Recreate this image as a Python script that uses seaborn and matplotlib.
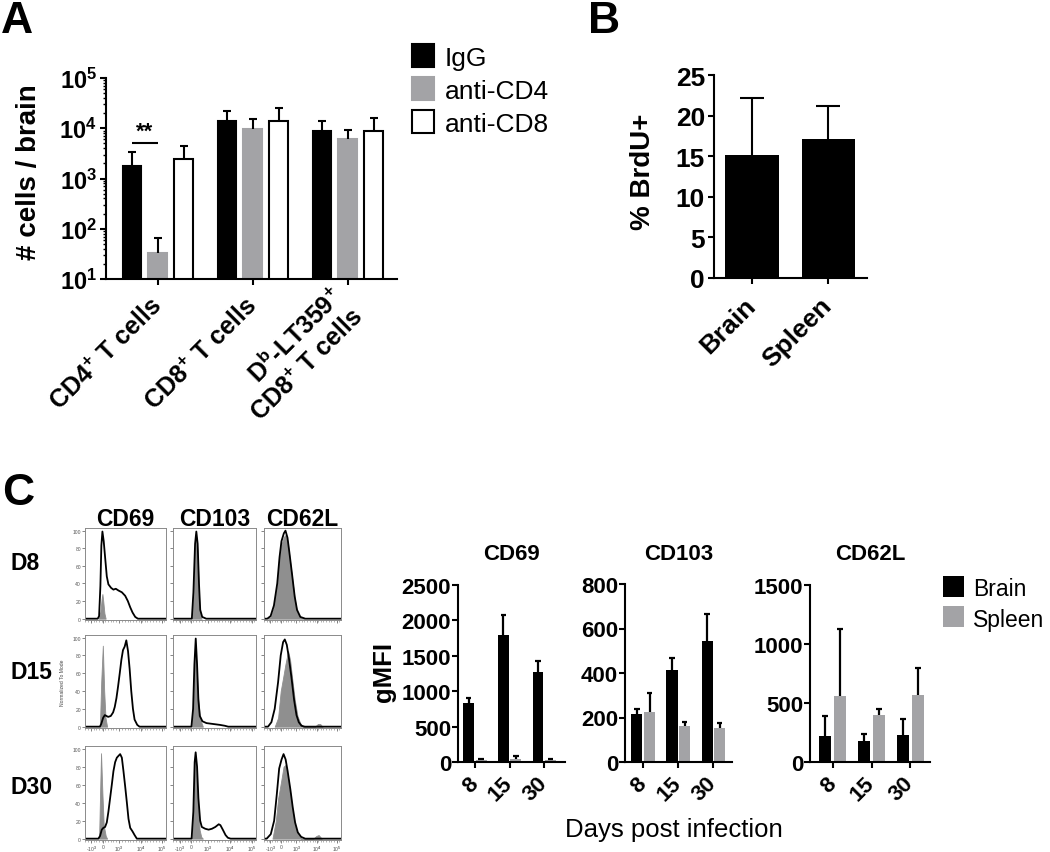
import numpy as np
import pandas as pd
import matplotlib
matplotlib.use("Agg")
import matplotlib.pyplot as plt
import seaborn as sns
from matplotlib.patches import Rectangle
from matplotlib.ticker import FixedLocator, LogLocator, NullFormatter

sns.set_style("ticks")
plt.rcParams["font.family"] = ["Liberation Sans", "DejaVu Sans"]
plt.rcParams["mathtext.fontset"] = "custom"
plt.rcParams["mathtext.rm"] = "Liberation Sans:bold"
plt.rcParams["mathtext.bf"] = "Liberation Sans:bold"
plt.rcParams["mathtext.it"] = "Liberation Sans:bold"
plt.rcParams["mathtext.default"] = "rm"
plt.rcParams["text.color"] = "black"
plt.rcParams["axes.labelcolor"] = "black"
plt.rcParams["xtick.color"] = "black"
plt.rcParams["ytick.color"] = "black"

# ---------------- data: panel A ----------------
A_CATS = ["CD4", "CD8", "Db"]
A_TICKLABELS = [r"CD4$^{+}$ T cells", r"CD8$^{+}$ T cells",
                "D$^{b}$-LT359$^{+}$\nCD8$^{+}$ T cells"]
A_GROUPS = ["IgG", "anti-CD4", "anti-CD8"]
A_IGG = [1780, 13900, 8800]
A_IGG_ERR = [1600, 8400, 5200]
A_ACD4 = [33, 9700, 6100]
A_ACD4_ERR = [33, 5600, 3200]
A_ACD8 = [2450, 13900, 8800]
A_ACD8_ERR = [2000, 11500, 7000]
A_YTICKS = [1e1, 1e2, 1e3, 1e4, 1e5]
A_YTICKLABELS = [r"$10^{1}$", r"$10^{2}$", r"$10^{3}$", r"$10^{4}$", r"$10^{5}$"]
A_SIG_Y = 5200

# ---------------- data: panel B ----------------
B_CATS = ["Brain", "Spleen"]
B_VALS = [15.2, 17.1]
B_ERR = [7.0, 4.1]
B_YTICKS = [0, 5, 10, 15, 20, 25]

# ---------------- data: panel C bars ----------------
C_DAYS = ["8", "15", "30"]
C_TISSUES = ["Brain", "Spleen"]
CD69_BRAIN = [830, 1790, 1265]
CD69_BRAIN_ERR = [70, 285, 155]
CD69_SPLEEN = [25, 45, 25]
CD69_SPLEEN_ERR = [12, 45, 12]
CD103_BRAIN = [217, 414, 546]
CD103_BRAIN_ERR = [22, 55, 119]
CD103_SPLEEN = [226, 164, 154]
CD103_SPLEEN_ERR = [85, 17, 22]
CD62L_BRAIN = [217, 178, 225]
CD62L_BRAIN_ERR = [169, 59, 139]
CD62L_SPLEEN = [561, 395, 570]
CD62L_SPLEEN_ERR = [567, 50, 228]
CD69_YTICKS = [0, 500, 1000, 1500, 2000, 2500]
CD103_YTICKS = [0, 200, 400, 600, 800]
CD62L_YTICKS = [0, 500, 1000, 1500]

# ---------------- data: panel C histograms (x: biexponential position 0-1, y: % of mode) ----------------
HIST_MARKERS = ["CD69", "CD103", "CD62L"]
HIST_DAYS = ["D8", "D15", "D30"]
HIST_YTICKS = [0, 20, 40, 60, 80, 100]
HIST_XTICKS = [0.08, 0.22, 0.42, 0.69, 0.95]
HIST_XTICKLABELS = [r"-10$^{3}$", "0", r"10$^{3}$", r"10$^{4}$", r"10$^{5}$"]

CD69_D8_LINE = [(0, 0), (0.157, 0), (0.174, 3), (0.19, 37), (0.202, 83), (0.215, 99), (0.231, 88),
                (0.248, 70), (0.269, 48), (0.289, 39), (0.322, 35), (0.351, 33), (0.38, 34), (0.413, 32),
                (0.455, 30), (0.496, 26), (0.529, 20), (0.558, 13), (0.587, 7), (0.62, 2), (0.653, 0), (1, 0)]
CD69_D8_FILL = [(0.17, 0), (0.19, 8), (0.205, 22), (0.215, 28), (0.225, 20), (0.24, 6), (0.255, 0)]
CD103_D8_LINE = [(0, 0), (0.227, 0), (0.246, 30), (0.266, 85), (0.281, 99), (0.297, 85), (0.313, 40),
                 (0.328, 10), (0.352, 2), (0.4, 0), (1, 0)]
CD103_D8_FILL = [(0.232, 0), (0.25, 28), (0.266, 78), (0.28, 93), (0.295, 78), (0.31, 32), (0.325, 6),
                 (0.345, 0)]
CD62L_D8_LINE = [(0, 0), (0.043, 0), (0.086, 3), (0.129, 15), (0.172, 40), (0.202, 70), (0.227, 88),
                 (0.258, 97), (0.279, 100), (0.305, 92), (0.33, 75), (0.365, 50), (0.399, 25), (0.429, 10),
                 (0.472, 2), (0.536, 0), (1, 0)]
CD62L_D8_FILL = [(0.05, 0), (0.09, 2), (0.13, 13), (0.172, 37), (0.202, 66), (0.227, 84), (0.258, 93),
                 (0.279, 95), (0.305, 88), (0.33, 71), (0.365, 46), (0.399, 22), (0.429, 8), (0.472, 1),
                 (0.52, 0)]

CD69_D15_LINE = [(0, 0), (0.184, 0), (0.2, 3), (0.224, 10), (0.245, 13), (0.265, 12), (0.286, 11),
                 (0.318, 12), (0.347, 16), (0.367, 22), (0.388, 32), (0.408, 45), (0.429, 60), (0.449, 75),
                 (0.469, 86), (0.49, 90), (0.51, 97), (0.531, 85), (0.551, 65), (0.571, 40), (0.592, 20),
                 (0.612, 8), (0.645, 2), (0.673, 0), (1, 0)]
CD69_D15_FILL = [(0.184, 0), (0.2, 50), (0.22, 91), (0.237, 40), (0.253, 10), (0.273, 0)]
CD103_D15_LINE = [(0, 0), (0.222, 0), (0.242, 20), (0.258, 70), (0.274, 99), (0.29, 70), (0.306, 30),
                  (0.323, 12), (0.355, 6), (0.403, 4), (0.484, 3), (0.565, 2), (0.625, 1), (0.665, 0), (1, 0)]
CD103_D15_FILL = [(0.23, 0), (0.25, 40), (0.265, 85), (0.28, 75), (0.3, 35), (0.32, 15), (0.34, 5),
                  (0.36, 0)]
CD62L_D15_LINE = [(0, 0), (0.052, 0), (0.096, 5), (0.139, 20), (0.183, 50), (0.217, 80), (0.248, 95),
                  (0.27, 98), (0.296, 92), (0.322, 78), (0.357, 55), (0.391, 30), (0.422, 13), (0.452, 5),
                  (0.487, 1), (0.53, 0), (1, 0)]
CD62L_D15_FILL = [(0.139, 0), (0.183, 10), (0.217, 40), (0.248, 55), (0.278, 70), (0.313, 85),
                  (0.339, 75), (0.365, 55), (0.4, 30), (0.435, 12), (0.47, 4), (0.509, 0), (0.66, 0),
                  (0.7, 3), (0.73, 3), (0.76, 0)]

CD69_D30_LINE = [(0, 0), (0.165, 0), (0.186, 3), (0.207, 10), (0.227, 12), (0.248, 13), (0.269, 18),
                 (0.289, 30), (0.31, 45), (0.331, 60), (0.351, 75), (0.372, 85), (0.393, 90), (0.413, 92),
                 (0.434, 94), (0.455, 90), (0.475, 75), (0.496, 58), (0.517, 40), (0.537, 22), (0.558, 12),
                 (0.587, 8), (0.612, 4), (0.64, 0), (1, 0)]
CD69_D30_FILL = [(0.174, 0), (0.186, 50), (0.198, 95), (0.215, 50), (0.231, 15), (0.256, 3), (0.273, 0)]
CD103_D30_LINE = [(0, 0), (0.224, 0), (0.245, 30), (0.261, 85), (0.273, 96), (0.29, 80), (0.306, 45),
                  (0.327, 20), (0.347, 13), (0.388, 11), (0.429, 10), (0.469, 11), (0.51, 13), (0.551, 16),
                  (0.571, 15), (0.6, 10), (0.633, 4), (0.661, 1), (0.694, 0), (1, 0)]
CD103_D30_FILL = [(0.23, 0), (0.25, 40), (0.265, 88), (0.285, 70), (0.3, 40), (0.32, 10), (0.34, 2),
                  (0.36, 0)]
CD62L_D30_LINE = [(0, 0), (0.035, 0), (0.088, 5), (0.132, 20), (0.167, 50), (0.197, 78), (0.228, 88),
                  (0.254, 94), (0.281, 88), (0.307, 75), (0.342, 55), (0.373, 35), (0.404, 18), (0.439, 7),
                  (0.482, 2), (0.535, 0), (1, 0)]
CD62L_D30_FILL = [(0.11, 0), (0.154, 20), (0.184, 45), (0.219, 62), (0.254, 80), (0.281, 82),
                  (0.307, 70), (0.342, 50), (0.373, 30), (0.404, 15), (0.439, 5), (0.482, 0), (0.64, 0),
                  (0.68, 3), (0.71, 4), (0.75, 0)]

HIST = {
    ("D8", "CD69"): (CD69_D8_LINE, CD69_D8_FILL),
    ("D8", "CD103"): (CD103_D8_LINE, CD103_D8_FILL),
    ("D8", "CD62L"): (CD62L_D8_LINE, CD62L_D8_FILL),
    ("D15", "CD69"): (CD69_D15_LINE, CD69_D15_FILL),
    ("D15", "CD103"): (CD103_D15_LINE, CD103_D15_FILL),
    ("D15", "CD62L"): (CD62L_D15_LINE, CD62L_D15_FILL),
    ("D30", "CD69"): (CD69_D30_LINE, CD69_D30_FILL),
    ("D30", "CD103"): (CD103_D30_LINE, CD103_D30_FILL),
    ("D30", "CD62L"): (CD62L_D30_LINE, CD62L_D30_FILL),
}

# ---------------- styling ----------------
BLACK = "#000000"
BAR_GRAY = "#a3a3a6"
HIST_GRAY = "#8f8f8f"
FRAME_GRAY = "#8a8a8a"

W, H = 1050, 853
fig = plt.figure(figsize=(W / 100, H / 100), dpi=100)
fig.patch.set_facecolor("white")


def rect(l, t, r, b):
    return [l / W, 1 - b / H, (r - l) / W, (b - t) / H]


def ftext(x, y, s, **kw):
    kw.setdefault("color", BLACK)
    return fig.text(x / W, 1 - y / H, s, **kw)


def fsquare(l, t, r, b, fc, ec=None, lw=0):
    fig.add_artist(Rectangle((l / W, 1 - b / H), (r - l) / W, (b - t) / H,
                             transform=fig.transFigure, facecolor=fc,
                             edgecolor=ec if ec else fc, linewidth=lw))


def style_bar_axes(ax, lw=1.5, ticklen=4.5):
    sns.despine(ax=ax)
    for s in ["left", "bottom"]:
        ax.spines[s].set_linewidth(lw)
        ax.spines[s].set_color(BLACK)
    ax.tick_params(axis="both", which="major", length=ticklen, width=lw,
                   color=BLACK, direction="out", labelcolor=BLACK)
    ax.set_xlabel("")
    ax.set_ylabel("")
    ax.set_facecolor("none")


def add_errs(ax, container, errs, lw=1.5, frac=0.45):
    patches = sorted(container, key=lambda p: p.get_x())
    for p, e in zip(patches, errs):
        xc = p.get_x() + p.get_width() / 2
        top = p.get_height()
        half = p.get_width() * frac / 2
        ax.vlines(xc, top, top + e, color=BLACK, lw=lw, zorder=3)
        ax.hlines(top + e, xc - half, xc + half, color=BLACK, lw=lw, zorder=3)


# ================= Panel A =================
dfA = pd.DataFrame({
    "cat": A_CATS * 3,
    "grp": np.repeat(A_GROUPS, len(A_CATS)),
    "val": A_IGG + A_ACD4 + A_ACD8,
})
axA = fig.add_axes(rect(106, 79, 397, 280))
sns.barplot(data=dfA, x="cat", y="val", hue="grp", order=A_CATS, hue_order=A_GROUPS,
            palette={"IgG": BLACK, "anti-CD4": BAR_GRAY, "anti-CD8": "white"},
            width=0.82, gap=0.27, errorbar=None, legend=False, ax=axA,
            edgecolor=BLACK, linewidth=1.5)
for p in axA.containers[1]:
    p.set_edgecolor(BAR_GRAY)
for cont, errs in zip(axA.containers, [A_IGG_ERR, A_ACD4_ERR, A_ACD8_ERR]):
    add_errs(axA, cont, errs, lw=1.5, frac=0.45)
axA.set_yscale("log")
axA.set_ylim(1e1, 1e5)
axA.set_xlim(-0.547, 2.516)
style_bar_axes(axA)
axA.yaxis.set_minor_locator(LogLocator(base=10, subs=np.arange(2, 10)))
axA.yaxis.set_minor_formatter(NullFormatter())
axA.tick_params(axis="y", which="minor", length=2.5, width=1.0, color=BLACK, direction="out")
axA.set_yticks(A_YTICKS)
axA.set_yticklabels(A_YTICKLABELS, fontsize=17, fontweight="bold")
axA.set_xticks(range(len(A_CATS)))
axA.set_xticklabels(A_TICKLABELS, rotation=45, ha="right", va="center",
                    rotation_mode="anchor", fontsize=18, fontweight="bold")
axA.tick_params(axis="x", pad=12)
axA.tick_params(axis="y", pad=2)
# significance
c0 = sorted(axA.containers[0], key=lambda p: p.get_x())[0]
c1 = sorted(axA.containers[1], key=lambda p: p.get_x())[0]
x0 = c0.get_x() + c0.get_width() / 2
x1 = c1.get_x() + c1.get_width() / 2
axA.hlines(A_SIG_Y, x0, x1, color=BLACK, lw=1.5)
axA.text((x0 + x1) / 2, A_SIG_Y * 1.05, "**", ha="center", va="bottom",
         fontsize=16, fontweight="bold", color=BLACK)
ftext(29, 172, "# cells / brain", rotation=90, ha="center", va="center",
      fontsize=20, fontweight="bold")

# legend A
for (t, b), lab, fc, ec in zip([(45, 68), (78, 101), (111, 134)], A_GROUPS,
                               [BLACK, BAR_GRAY, "white"], [BLACK, BAR_GRAY, BLACK]):
    fsquare(412, t, 434, b, fc, ec, lw=1.5)
    ftext(445, (t + b) / 2, lab, ha="left", va="center_baseline", fontsize=19)

ftext(1, 33, "A", ha="left", va="baseline", fontsize=32, fontweight="bold")

# ================= Panel B =================
dfB = pd.DataFrame({"tissue": B_CATS, "val": B_VALS})
axB = fig.add_axes(rect(714, 76, 867, 279))
sns.barplot(data=dfB, x="tissue", y="val", order=B_CATS, color=BLACK, width=0.7,
            errorbar=None, ax=axB, edgecolor=BLACK, linewidth=0)
add_errs(axB, axB.containers[0], B_ERR, lw=1.5, frac=0.45)
axB.set_ylim(0, 25)
axB.set_xlim(-0.5, 1.51)
style_bar_axes(axB)
axB.set_yticks(B_YTICKS)
axB.set_yticklabels([str(v) for v in B_YTICKS], fontsize=19, fontweight="bold")
axB.set_xticks(range(len(B_CATS)))
axB.set_xticklabels(B_CATS, rotation=45, ha="right", va="center", rotation_mode="anchor",
                    fontsize=19, fontweight="bold")
axB.tick_params(axis="x", pad=12)
axB.tick_params(axis="y", pad=2)
ftext(643, 172, "% BrdU+", rotation=90, ha="center", va="center", fontsize=20, fontweight="bold")
ftext(588, 33, "B", ha="left", va="baseline", fontsize=32, fontweight="bold")

# ================= Panel C: histograms =================
ftext(2, 505, "C", ha="left", va="baseline", fontsize=32, fontweight="bold")
hist_cols = [(85, 166), (173, 256), (264, 341)]
hist_rows = [(529, 621), (636, 729), (747, 841)]
row_label_y = [563, 673, 788]
minor_x = np.arange(0.0, 1.001, 0.035)
for ci, m in enumerate(HIST_MARKERS):
    ftext((hist_cols[ci][0] + hist_cols[ci][1]) / 2, 520, m, ha="center", va="center",
          fontsize=16.5, fontweight="bold")
for ri, d in enumerate(HIST_DAYS):
    ftext(10, row_label_y[ri], d, ha="left", va="center", fontsize=16.5, fontweight="bold")
    for ci, m in enumerate(HIST_MARKERS):
        l, r = hist_cols[ci]
        t, b = hist_rows[ri]
        ax = fig.add_axes(rect(l, t, r, b))
        line, fill = HIST[(d, m)]
        fx = [p[0] for p in fill]
        fy = [p[1] for p in fill]
        ax.fill_between(fx, fy, 0, color=HIST_GRAY, linewidth=0.6, edgecolor=HIST_GRAY, zorder=1)
        lx = [p[0] for p in line]
        ly = [p[1] for p in line]
        sns.lineplot(x=lx, y=ly, ax=ax, color=BLACK, linewidth=1.3, sort=False,
                     estimator=None, zorder=2)
        ax.set_xlim(0, 1)
        ax.set_ylim(-1.5, 103)
        for s in ax.spines.values():
            s.set_color(FRAME_GRAY)
            s.set_linewidth(0.7)
        ax.set_yticks(HIST_YTICKS)
        ax.set_xticks(HIST_XTICKS)
        ax.xaxis.set_minor_locator(FixedLocator(minor_x))
        ax.tick_params(axis="both", which="major", length=2, width=0.5, color="#555555",
                       labelsize=3.6, labelcolor="#555555", pad=0.8)
        ax.tick_params(axis="x", which="minor", length=1.2, width=0.4, color="#777777")
        if ci == 0:
            ax.set_yticklabels([str(v) for v in HIST_YTICKS])
        else:
            ax.set_yticklabels([])
        if ri == 2:
            ax.set_xticklabels(HIST_XTICKLABELS)
        else:
            ax.set_xticklabels([])
        ax.set_xlabel("")
        ax.set_ylabel("")
ftext(63, 683, "Normalized To Mode", rotation=90, ha="center", va="center",
      fontsize=3.6, color="#444444")

# ================= Panel C: bar charts =================
bar_specs = [
    ("CD69", CD69_BRAIN, CD69_BRAIN_ERR, CD69_SPLEEN, CD69_SPLEEN_ERR, CD69_YTICKS,
     (458, 586, 565, 763), (-0.49, 2.6), 0.72, 0.12),
    ("CD103", CD103_BRAIN, CD103_BRAIN_ERR, CD103_SPLEEN, CD103_SPLEEN_ERR, CD103_YTICKS,
     (625, 585, 732, 763), (-0.52, 2.53), 0.72, 0.12),
    ("CD62L", CD62L_BRAIN, CD62L_BRAIN_ERR, CD62L_SPLEEN, CD62L_SPLEEN_ERR, CD62L_YTICKS,
     (810, 586, 930, 763), (-0.59, 2.51), 0.78, 0.22),
]
for name, bv, be, sv, se, yt, box, xl, wd, gp in bar_specs:
    df = pd.DataFrame({"day": C_DAYS * 2,
                       "tissue": np.repeat(C_TISSUES, len(C_DAYS)),
                       "val": bv + sv})
    ax = fig.add_axes(rect(*box))
    sns.barplot(data=df, x="day", y="val", hue="tissue", order=C_DAYS, hue_order=C_TISSUES,
                palette={"Brain": BLACK, "Spleen": BAR_GRAY}, width=wd, gap=gp,
                errorbar=None, legend=False, ax=ax, linewidth=0)
    for cont, errs in zip(ax.containers, [be, se]):
        add_errs(ax, cont, errs, lw=1.6, frac=0.5)
    ax.set_ylim(yt[0], yt[-1])
    ax.set_xlim(*xl)
    style_bar_axes(ax, lw=1.5, ticklen=4)
    ax.set_yticks(yt)
    ax.set_yticklabels([str(v) for v in yt], fontsize=16, fontweight="bold")
    ax.set_xticks(range(len(C_DAYS)))
    ax.set_xticklabels(C_DAYS, rotation=45, ha="right", va="center", rotation_mode="anchor",
                       fontsize=16, fontweight="bold")
    ax.tick_params(axis="x", pad=9)
    ax.tick_params(axis="y", pad=1)
    ftext((box[0] + box[2]) / 2, 555, name, ha="center", va="center", fontsize=16,
          fontweight="bold")

ftext(384, 672, "gMFI", rotation=90, ha="center", va="center", fontsize=18.5, fontweight="bold")
ftext(674, 830, "Days post infection", ha="center", va="center", fontsize=18.5)
for (t, b), lab, fc in zip([(577, 598), (607, 628)], C_TISSUES, [BLACK, BAR_GRAY]):
    fsquare(943, t, 964, b, fc)
    ftext(973, (t + b) / 2, lab, ha="left", va="center_baseline", fontsize=16.5)

fig.savefig("out.png", dpi=100, facecolor="white")
